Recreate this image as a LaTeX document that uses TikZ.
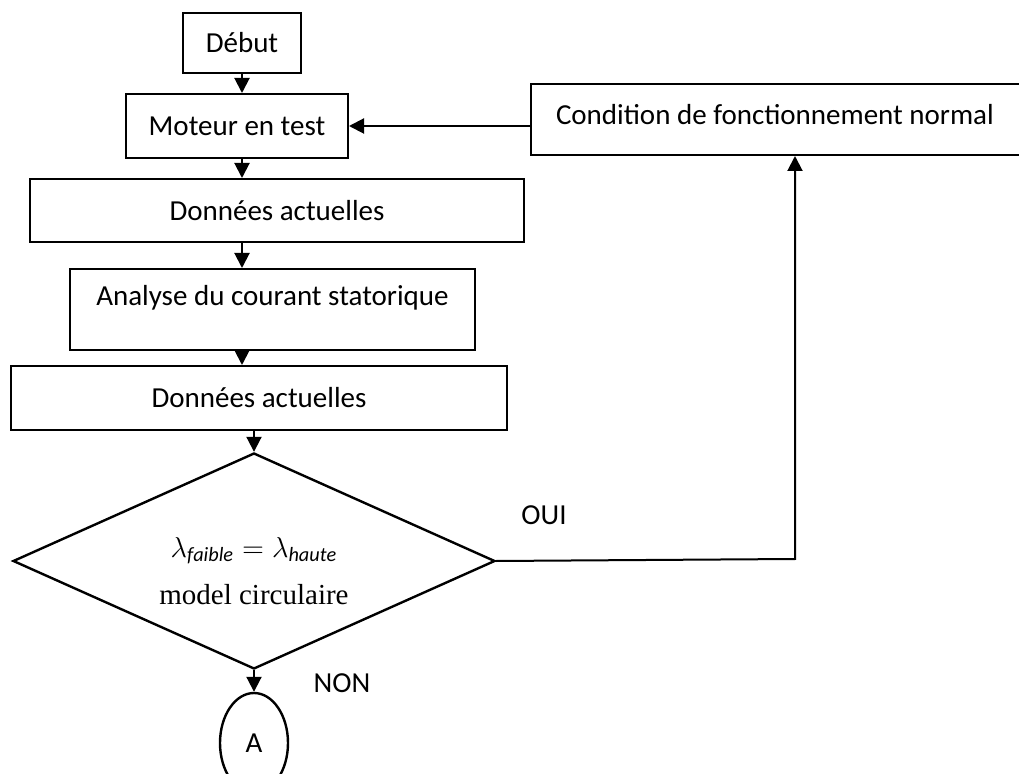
\documentclass[tikz,border=0pt]{standalone}
\usepackage{fontspec}
\setmainfont{Carlito}
\newfontfamily\timesfont{Liberation Serif}
\usetikzlibrary{shapes.geometric,arrows.meta}

\begin{document}
\begin{tikzpicture}[x=0.5pt,y=0.5pt,
  boite/.style={draw,line width=1pt,inner sep=0pt,anchor=north west,font=\fontsize{14.5}{17}\selectfont},
  fleche/.style={line width=1pt,-{Triangle[length=7.5pt,width=7.5pt]}},
  etiq/.style={font=\fontsize{14.5}{17}\selectfont}]
\useasboundingbox (0,0) rectangle (1019,773);

% Chaine principale
\node[boite,minimum width=59pt,minimum height=30pt] (debut) at (182,761) {Début};
\node[boite,minimum width=111pt,minimum height=32pt] (moteur) at (125,680) {Moteur en test};
\node[boite,minimum width=247pt,minimum height=31.5pt] (donnees1) at (29,595) {Données actuelles};
\node[boite,minimum width=202.5pt,minimum height=40.5pt,text depth=14pt] (analyse) at (69,505) {Analyse du courant statorique};
\node[boite,minimum width=248pt,minimum height=32pt] (donnees2) at (10,408) {Données actuelles};

% Retour vers le moteur
\node[boite,text width=235pt,inner xsep=12.5pt,minimum height=35.5pt,text depth=5.5pt,align=flush left] (cond) at (530,690) {Condition de fonctionnement normal};

% Test
\node[draw,diamond,line width=1.2pt,inner sep=0pt,aspect=2.2,minimum width=241pt,minimum height=108pt] (choix) at (254,212) {};
\node[align=center,font=\timesfont\fontsize{14.5}{17.5}\selectfont] (choixtxt) at (254,202) {$\lambda_{\mathit{faible}} = \lambda_{\mathit{haute}}$\\[6pt]model circulaire};
\node[draw,ellipse,line width=1.2pt,inner sep=0pt,minimum width=34pt,minimum height=50pt,font=\fontsize{14.5}{17}\selectfont] (finA) at (254,30) {A};

% Fleches
\draw[fleche] (debut.south) -- (debut.south |- moteur.north);
\draw[fleche] (moteur.south -| debut.south) -- (donnees1.north -| debut.south);
\draw[fleche] (donnees1.south -| debut.south) -- (analyse.north -| debut.south);
\draw[fleche] (analyse.south -| debut.south) -- (donnees2.north -| debut.south);
\draw[fleche] (donnees2.south -| choix.north) -- (choix.north);
\draw[fleche] (choix.south) -- (finA.north);
\coordinate (coude) at (795,214);
\draw[fleche] (choix.east) -- (coude) -- (coude |- cond.south);
\draw[fleche] (cond.west |- moteur.east) -- (moteur.east);

\node[etiq] (oui) at (544,258) {OUI};
\node[etiq] (non) at (342,90) {NON};
\end{tikzpicture}
\end{document}
